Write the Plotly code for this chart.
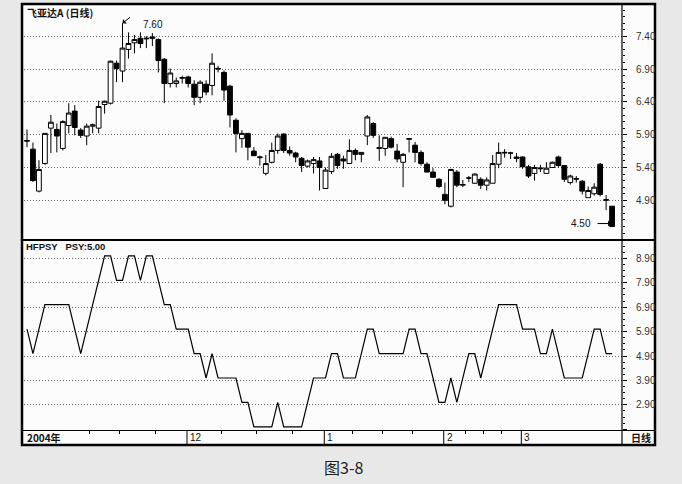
import plotly.graph_objects as go

W, H = 682, 484

# ---------------- data ----------------
idx = list(range(99))
opens = [5.80, 5.68, 5.04, 5.46, 6.00, 5.98, 5.69, 6.04, 6.26, 5.97,
         5.88, 6.03, 6.00, 6.36, 6.38, 6.99, 6.87, 7.20, 7.30, 7.37,
         7.36, 7.39, 7.35, 7.05, 6.68, 6.68, 6.76, 6.78, 6.67, 6.47,
         6.67, 6.65, 6.90, 6.85, 6.64, 6.12, 5.84, 5.92, 5.65, 5.55,
         5.31, 5.48, 5.66, 5.91, 5.66, 5.62, 5.54, 5.42, 5.46, 5.50,
         5.08, 5.34, 5.60, 5.53, 5.46, 5.66, 5.60, 5.88, 6.07, 5.69,
         5.69, 5.84, 5.65, 5.48, 5.83, 5.74, 5.63, 5.45, 5.33, 5.22,
         4.99, 4.81, 5.33, 5.13, 5.24, 5.16, 5.22, 5.13, 5.16, 5.45,
         5.62, 5.62, 5.56, 5.56, 5.41, 5.31, 5.38, 5.31, 5.40, 5.56,
         5.43, 5.17, 5.22, 5.19, 4.94, 5.00, 5.45, 4.90, 4.81]
highs = [5.98, 5.78, 5.51, 5.92, 6.20, 6.07, 6.12, 6.38, 6.35, 6.00,
         6.07, 6.07, 6.42, 6.42, 7.03, 7.03, 7.60, 7.46, 7.42, 7.46,
         7.40, 7.45, 7.37, 7.07, 6.91, 6.77, 6.80, 6.80, 6.73, 6.73,
         6.73, 7.14, 6.95, 6.88, 6.66, 6.15, 5.97, 5.92, 5.71, 5.58,
         5.59, 5.78, 5.92, 5.92, 5.72, 5.64, 5.56, 5.52, 5.56, 5.56,
         5.40, 5.62, 5.62, 5.58, 5.83, 5.69, 5.63, 6.20, 6.09, 5.89,
         5.86, 5.87, 5.76, 5.62, 5.85, 5.79, 5.66, 5.48, 5.39, 5.24,
         5.17, 5.38, 5.36, 5.21, 5.27, 5.31, 5.25, 5.25, 5.59, 5.78,
         5.68, 5.64, 5.62, 5.57, 5.44, 5.44, 5.44, 5.48, 5.49, 5.58,
         5.43, 5.29, 5.27, 5.21, 5.11, 5.16, 5.47, 4.98, 4.81]
lows = [5.71, 5.18, 5.02, 5.44, 5.62, 5.63, 5.66, 5.92, 5.89, 5.85,
        5.74, 5.92, 5.92, 6.22, 6.36, 6.70, 6.70, 7.06, 7.14, 7.22,
        7.22, 7.25, 6.85, 6.38, 6.62, 6.62, 6.68, 6.62, 6.35, 6.38,
        6.50, 6.50, 6.85, 6.42, 6.01, 5.63, 5.70, 5.51, 5.58, 5.43,
        5.28, 5.46, 5.61, 5.62, 5.58, 5.48, 5.33, 5.40, 5.31, 5.05,
        5.08, 5.30, 5.38, 5.38, 5.46, 5.51, 5.48, 5.74, 5.85, 5.50,
        5.58, 5.69, 5.48, 5.10, 5.63, 5.48, 5.43, 5.33, 5.25, 5.09,
        4.84, 4.79, 5.10, 5.10, 5.18, 5.15, 5.07, 5.05, 5.16, 5.39,
        5.55, 5.53, 5.48, 5.38, 5.24, 5.20, 5.33, 5.31, 5.40, 5.40,
        5.18, 5.14, 5.17, 4.99, 4.94, 4.97, 4.96, 4.75, 4.50]
closes = [5.81, 5.20, 5.37, 5.92, 6.09, 5.88, 6.10, 6.23, 6.01, 5.89,
          6.03, 6.05, 6.33, 6.41, 7.02, 6.91, 7.22, 7.29, 7.35, 7.29,
          7.37, 7.37, 7.03, 6.68, 6.84, 6.72, 6.77, 6.68, 6.47, 6.70,
          6.55, 6.99, 6.91, 6.58, 6.20, 5.92, 5.92, 5.71, 5.58, 5.56,
          5.46, 5.66, 5.88, 5.66, 5.62, 5.56, 5.43, 5.50, 5.52, 5.40,
          5.36, 5.57, 5.43, 5.50, 5.66, 5.60, 5.63, 6.17, 5.89, 5.70,
          5.86, 5.71, 5.53, 5.60, 5.84, 5.63, 5.46, 5.33, 5.25, 5.11,
          4.90, 5.37, 5.13, 5.14, 5.24, 5.30, 5.13, 5.21, 5.46, 5.63,
          5.63, 5.62, 5.54, 5.41, 5.27, 5.40, 5.39, 5.39, 5.48, 5.43,
          5.22, 5.27, 5.23, 5.04, 5.05, 5.10, 4.99, 4.91, 4.50]
psy = [6, 5, 6, 7, 7, 7, 7, 7, 6, 5,
       6, 7, 8, 9, 9, 8, 8, 9, 9, 8,
       9, 9, 8, 7, 7, 6, 6, 6, 5, 5,
       4, 5, 4, 4, 4, 4, 3, 3, 2, 2,
       2, 2, 3, 2, 2, 2, 2, 3, 4, 4,
       4, 5, 5, 4, 4, 4, 5, 6, 6, 5,
       5, 5, 5, 5, 6, 6, 5, 5, 4, 3,
       3, 4, 3, 4, 5, 5, 4, 5, 6, 7,
       7, 7, 7, 6, 6, 6, 5, 5, 6, 5,
       4, 4, 4, 4, 5, 6, 6, 5, 5]

price_ticks = [4.90, 5.40, 5.90, 6.40, 6.90, 7.40]
psy_ticks = [2.90, 3.90, 4.90, 5.90, 6.90, 7.90, 8.90]
psy_grid_extra = [1.90]
month_labels = ["12", "1", "2", "3"]
month_pos = [27, 50, 70, 83]
week_pos = [10.5, 15.5, 21.5, 32.5, 38.5, 44.5, 54.5, 59.5, 64.5, 73.5, 76.5, 79.5]
high_label = "7.60"
high_idx = 16
low_label = "4.50"
low_idx = 98
stock_title = "飞亚达A (日线)"
ind_title = "HFPSY   PSY:5.00"
caption = "图3-8"


def fx(x):
    return x / W


def fy(y):
    return 1 - y / H


FONT = "Liberation Sans, Arial, sans-serif"
CJK = "Noto Sans CJK SC, sans-serif"
PAGE_BG = "#e8e8e8"

fig = go.Figure()
fig.add_trace(go.Candlestick(
    x=idx, open=opens, high=highs, low=lows, close=closes,
    increasing=dict(line=dict(color="black", width=1), fillcolor="white"),
    decreasing=dict(line=dict(color="black", width=1), fillcolor="black"),
    whiskerwidth=0, xaxis="x", yaxis="y", showlegend=False, hoverinfo="skip"))
fig.add_trace(go.Scatter(
    x=idx, y=psy, mode="lines", line=dict(color="black", width=1.2),
    xaxis="x2", yaxis="y2", showlegend=False, hoverinfo="skip"))

xdom = [fx(24), fx(622)]
xr = [-0.5, 99.66]
grid = dict(showgrid=True, gridcolor="#666", griddash="1px,2px", gridwidth=1)

fig.update_layout(
    width=W, height=H, margin=dict(l=0, r=0, t=0, b=0),
    paper_bgcolor=PAGE_BG, plot_bgcolor="rgba(0,0,0,0)",
    boxgap=0.2, boxgroupgap=0,
    xaxis=dict(domain=xdom, range=xr, anchor="y", showticklabels=False,
               showgrid=False, zeroline=False, rangeslider=dict(visible=False),
               fixedrange=True),
    xaxis2=dict(domain=xdom, range=xr, anchor="y2", matches="x", showgrid=False,
                zeroline=False, showticklabels=False, tickmode="array",
                tickvals=week_pos, ticks="outside", ticklen=3, tickcolor="black",
                tickwidth=1),
    yaxis=dict(domain=[fy(239), fy(5)], range=[4.31, 7.877], side="right",
               anchor="x", tickmode="array", tickvals=price_ticks,
               ticktext=[f"{v:.2f}" for v in price_ticks], ticks="outside",
               ticklen=4, tickcolor="black", ticklabelstandoff=7,
               tickfont=dict(family=FONT, size=10, color="#333"),
               zeroline=False,
               minor=dict(tickmode="linear", tick0=4.9, dtick=0.1, ticks="outside",
                          ticklen=2, tickcolor="black", showgrid=False),
               **grid),
    yaxis2=dict(domain=[fy(430), fy(241)], range=[1.872, 9.608], side="right",
                anchor="x2", tickmode="array", tickvals=psy_grid_extra + psy_ticks,
                ticktext=[""] + [f"{v:.2f}" for v in psy_ticks], ticks="outside",
                ticklen=4, tickcolor="black", ticklabelstandoff=7,
                tickfont=dict(family=FONT, size=10, color="#333"),
                zeroline=False,
                minor=dict(tickmode="linear", tick0=1.9, dtick=0.25, ticks="outside",
                           ticklen=2, tickcolor="black", showgrid=False),
                **grid),
)

shapes = [
    dict(type="rect", xref="paper", yref="paper", x0=fx(22), x1=fx(655),
         y0=fy(445), y1=fy(4), fillcolor="#fcfcfc", line=dict(color="black", width=2.5),
         layer="below"),
    dict(type="line", xref="paper", yref="paper", x0=fx(622), x1=fx(622),
         y0=fy(445), y1=fy(4), line=dict(color="black", width=1.2)),
    dict(type="line", xref="paper", yref="paper", x0=fx(22), x1=fx(655),
         y0=fy(240), y1=fy(240), line=dict(color="black", width=2)),
    dict(type="line", xref="paper", yref="paper", x0=fx(22), x1=fx(655),
         y0=fy(430.5), y1=fy(430.5), line=dict(color="black", width=1)),
]
for p in month_pos:
    shapes.append(dict(type="line", xref="x2", yref="paper", x0=p - 0.2, x1=p - 0.2,
                       y0=fy(444), y1=fy(430.5), line=dict(color="black", width=1)))
fig.update_layout(shapes=shapes)

ann = [
    dict(xref="paper", yref="paper", x=fx(25), y=fy(12.5), text=f"<b>{stock_title}</b>",
         showarrow=False, xanchor="left", yanchor="middle",
         font=dict(family=CJK, size=10, color="#111")),
    dict(xref="paper", yref="paper", x=fx(24), y=fy(246.5), text=f"<b>{ind_title}</b>",
         showarrow=False, xanchor="left", yanchor="middle",
         font=dict(family=FONT, size=9.5, color="#111")),
    dict(xref="paper", yref="paper", x=fx(25), y=fy(437.5), text="<b>2004年</b>",
         showarrow=False, xanchor="left", yanchor="middle",
         font=dict(family=CJK, size=10, color="#111")),
    dict(xref="paper", yref="paper", x=fx(629), y=fy(437.5), text="<b>日线</b>",
         showarrow=False, xanchor="left", yanchor="middle",
         font=dict(family=CJK, size=10, color="#111")),
    dict(xref="paper", yref="paper", x=fx(343), y=fy(467), text=caption,
         showarrow=False, xanchor="center", yanchor="middle",
         font=dict(family=CJK, size=16, color="#222")),
    # high label + arrow
    dict(xref="x", yref="y", x=high_idx, y=highs[high_idx], text=high_label,
         showarrow=False, xanchor="left", yanchor="middle", xshift=18, yshift=-1,
         font=dict(family=FONT, size=10, color="#111")),
    dict(xref="x", yref="y", x=high_idx, y=highs[high_idx], text="", showarrow=True,
         ax=9, ay=-7, arrowhead=1, arrowsize=1, arrowwidth=1, arrowcolor="black",
         standoff=0),
    # low label + arrow
    dict(xref="x", yref="y", x=low_idx, y=lows[low_idx], text=low_label,
         showarrow=False, xanchor="right", yanchor="middle", xshift=-19, yshift=3,
         font=dict(family=FONT, size=10, color="#111")),
    dict(xref="x", yref="y", x=low_idx, y=lows[low_idx], text="", showarrow=True,
         ax=-16, ay=0, yshift=3, arrowhead=1, arrowsize=1, arrowwidth=1,
         arrowcolor="black", standoff=1),
]
for lab, p in zip(month_labels, month_pos):
    ann.append(dict(xref="x2", yref="paper", x=p - 0.2, y=fy(437.5), text=lab,
                    showarrow=False, xanchor="left", yanchor="middle", xshift=1,
                    font=dict(family=FONT, size=10, color="#111")))
fig.update_layout(annotations=ann)

fig.write_html(
    "out.html",
    config={"displayModeBar": False, "staticPlot": True},
    post_script=("document.body.style.margin='0';"
                 "document.body.style.background='" + PAGE_BG + "';"
                 "document.documentElement.style.overflow='hidden';"),
)
